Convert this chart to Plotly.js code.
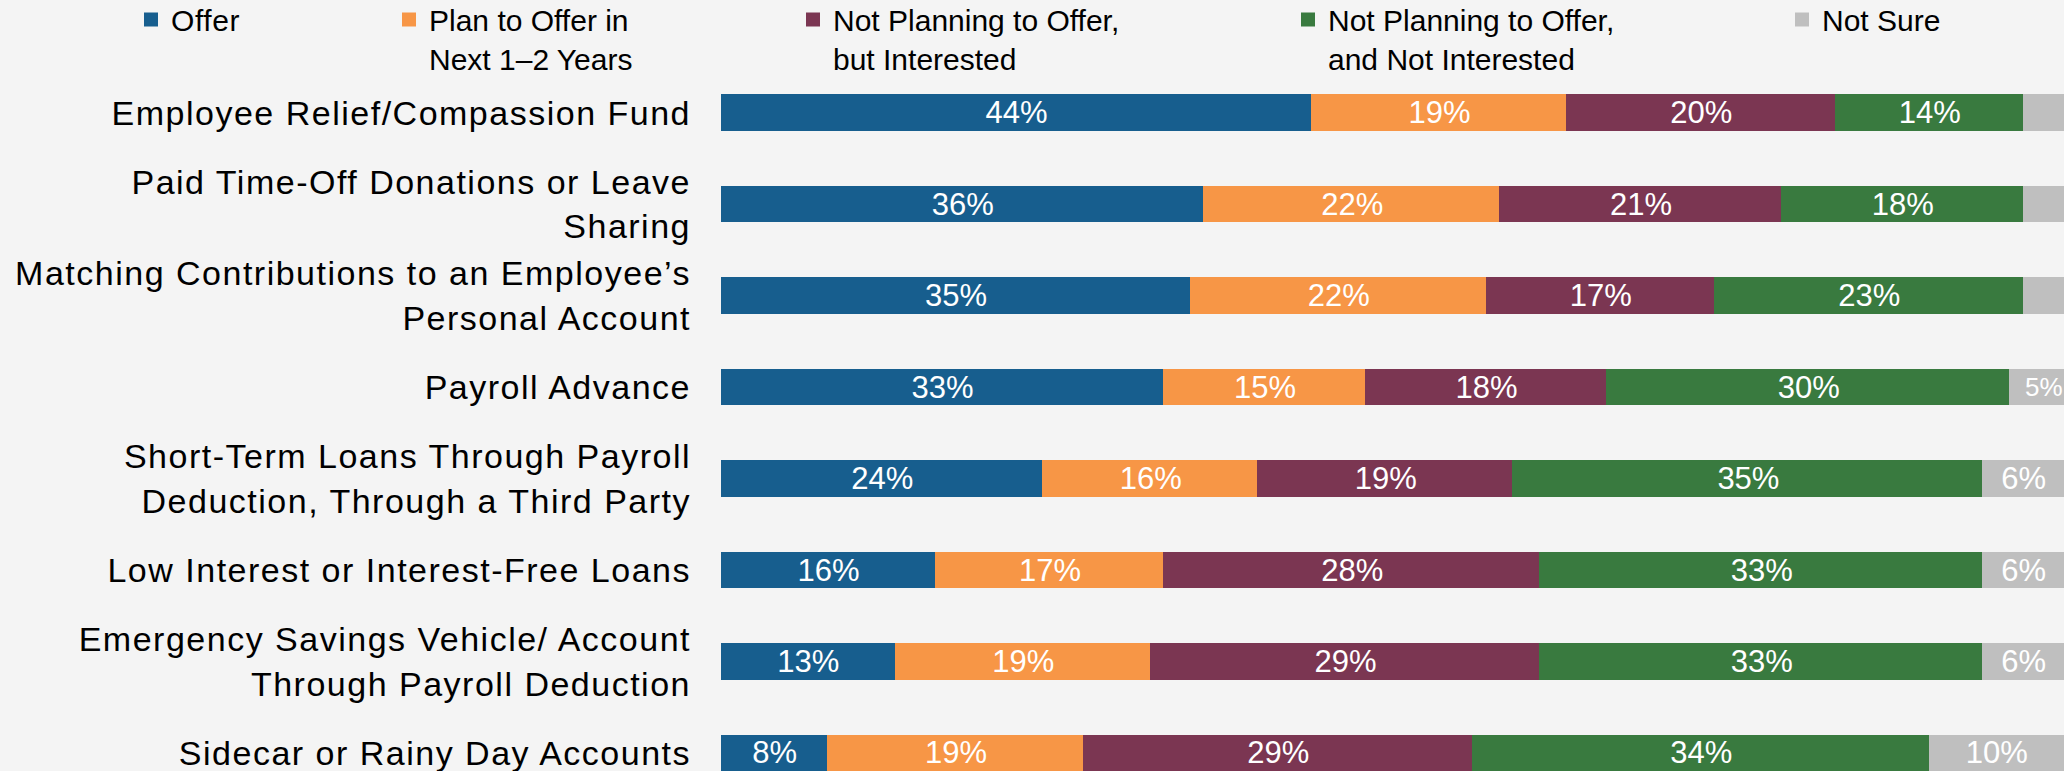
<!DOCTYPE html>
<html>
<head>
<meta charset="utf-8">
<script src="https://cdn.plot.ly/plotly-3.0.1.min.js"></script>
<style>
html,body{margin:0;padding:0;background:#F4F4F4;}
#chart{width:2064px;height:771px;}
#chart .ytick text{letter-spacing:1.5px;}
#chart .legendtext{letter-spacing:0.6px;}
</style>
</head>
<body>
<div id="chart"></div>
<script>
const categories = [
  "Employee Relief/Compassion Fund",
  "Paid Time-Off Donations or Leave<br>Sharing",
  "Matching Contributions to an Employee’s<br>Personal Account",
  "Payroll Advance",
  "Short-Term Loans Through Payroll<br>Deduction, Through a Third Party",
  "Low Interest or Interest-Free Loans",
  "Emergency Savings Vehicle/ Account<br>Through Payroll Deduction",
  "Sidecar or Rainy Day Accounts"
];
const seriesNames = [
  "Offer",
  "Plan to Offer in<br>Next 1–2 Years",
  "Not Planning to Offer,<br>but Interested",
  "Not Planning to Offer,<br>and Not Interested",
  "Not Sure"
];
const offer          = [44, 36, 35, 33, 24, 16, 13, 8];
const planToOffer    = [19, 22, 22, 15, 16, 17, 19, 19];
const notPlanInt     = [20, 21, 17, 18, 19, 28, 29, 29];
const notPlanNotInt  = [14, 18, 23, 30, 35, 33, 33, 34];
const notSure        = [3, 3, 3, 5, 6, 6, 6, 10];
const showLabel      = [
  [1,1,1,1,1,1,1,1],
  [1,1,1,1,1,1,1,1],
  [1,1,1,1,1,1,1,1],
  [1,1,1,1,1,1,1,1],
  [0,0,0,1,1,1,1,1]
];
const colors = ["#175E8E", "#F79646", "#7B3652", "#397A3F", "#BFBFBF"];
const legendX = [131, 389, 793, 1288, 1782];

const allValues = [offer, planToOffer, notPlanInt, notPlanNotInt, notSure];
const legendIds = ["legend", "legend2", "legend3", "legend4", "legend5"];

const plotLeft = 721, plotWidth = 2064 - 721, plotTop = 67, plotHeight = 771 - 67;

// label size per point: the clipped Not Sure bar of row 4 gets a slightly smaller label so it stays inside
const labelSizes = allValues.map((vals, i) => vals.map((v, j) => (i === 4 && j === 3) ? 26 : 31));

const traces = allValues.map((vals, i) => ({
  type: "bar",
  orientation: "h",
  name: seriesNames[i],
  x: vals,
  y: categories,
  legend: legendIds[i],
  marker: {color: colors[i], line: {width: 2, color: colors[i]}},
  text: vals.map((v, j) => showLabel[i][j] ? v + "%" : ""),
  textposition: "inside",
  insidetextanchor: "middle",
  constraintext: "none",
  textangle: 0,
  textfont: {color: "#FFFFFF", size: labelSizes[i], family: "Liberation Sans, Arial, sans-serif"},
  hoverinfo: "skip"
}));

const layout = {
  width: 2064,
  height: 771,
  paper_bgcolor: "#F4F4F4",
  plot_bgcolor: "#F4F4F4",
  barmode: "stack",
  bargap: 0.623,
  margin: {l: plotLeft, r: 0, t: plotTop, b: 0, pad: 0, autoexpand: false},
  font: {family: "Liberation Sans, Arial, sans-serif", color: "#000000"},
  xaxis: {range: [0, 100], showticklabels: false, showgrid: false, zeroline: false, showline: false, fixedrange: true},
  yaxis: {
    type: "category",
    categoryorder: "array",
    categoryarray: categories,
    range: [7.197, -0.5],
    autorange: false,
    showgrid: false, zeroline: false, showline: false,
    ticks: "",
    ticklabelstandoff: 29,
    tickfont: {size: 34, color: "#000000", family: "Liberation Sans, Arial, sans-serif"}
  },
  showlegend: true
};
legendIds.forEach((id, i) => {
  layout[id] = {
    xref: "paper", yref: "paper",
    x: (legendX[i] - plotLeft) / plotWidth,
    y: 1 + (plotTop + 6.5) / plotHeight,
    xanchor: "left", yanchor: "top",
    orientation: "h",
    valign: "top",
    bgcolor: "rgba(0,0,0,0)",
    borderwidth: 0,
    font: {size: 30, color: "#000000", family: "Liberation Sans, Arial, sans-serif"}
  };
});

Plotly.newPlot("chart", traces, layout, {displayModeBar: false, staticPlot: true});
</script>
</body>
</html>
